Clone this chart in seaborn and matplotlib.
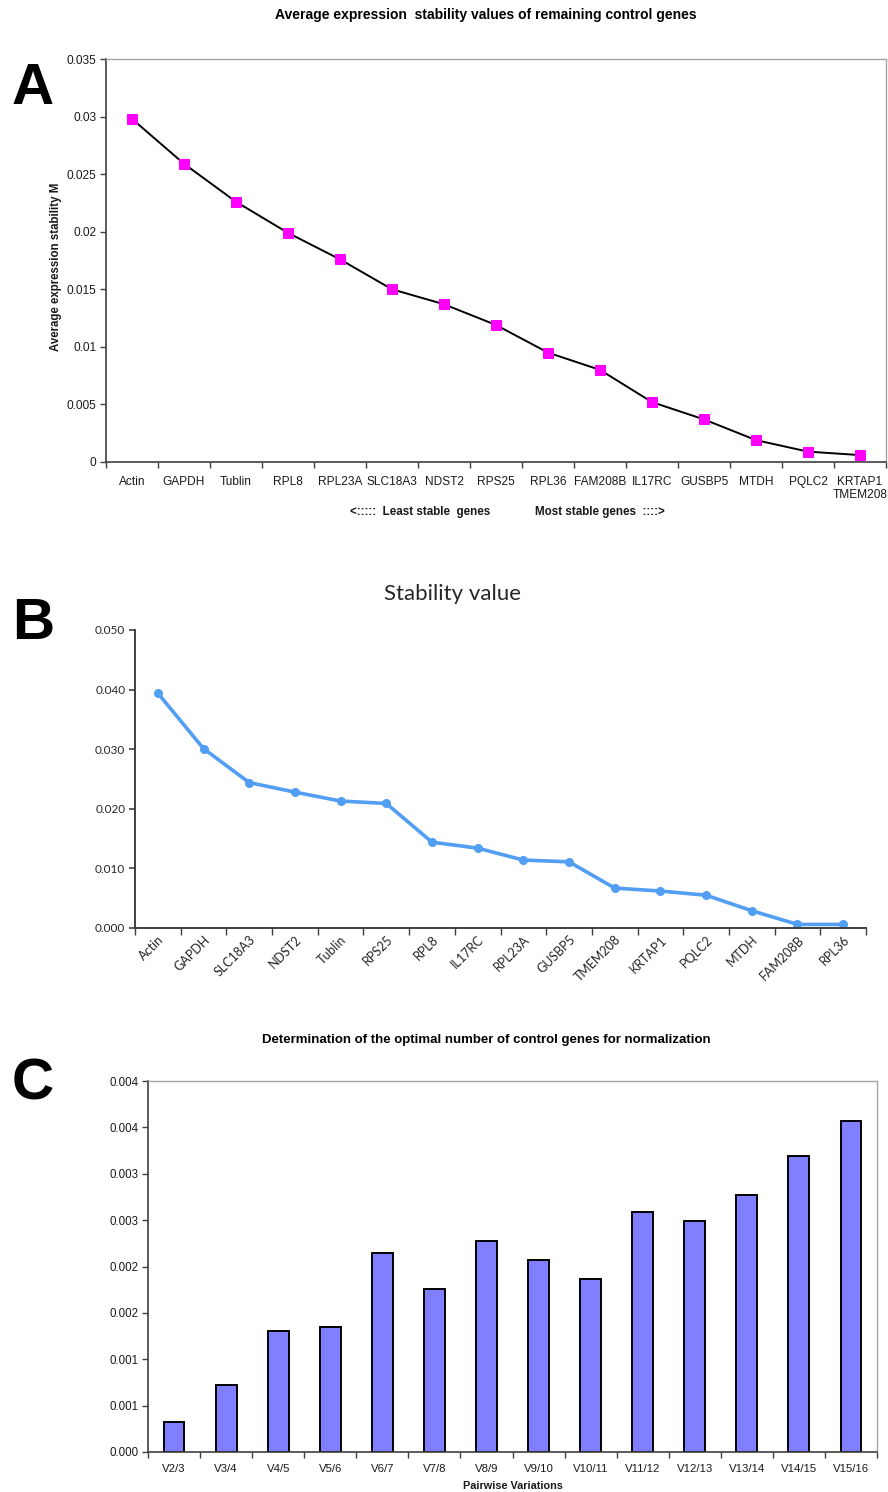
"""Reference gene stability panels (A: geNorm M, B: stability value, C: pairwise V)."""

import numpy as np
import matplotlib

matplotlib.use("Agg")
import matplotlib.pyplot as plt  # noqa: E402
import seaborn as sns  # noqa: E402

# --- data -------------------------------------------------------------------
genes_a = ["Actin", "GAPDH", "Tublin", "RPL8", "RPL23A", "SLC18A3", "NDST2",
           "RPS25", "RPL36", "FAM208B", "IL17RC", "GUSBP5", "MTDH", "PQLC2",
           "KRTAP1\nTMEM208"]
stability_m = [0.0298, 0.0259, 0.0226, 0.0199, 0.0176, 0.0150, 0.0137,
               0.0119, 0.0095, 0.0080, 0.0052, 0.0037, 0.0019, 0.0009, 0.0006]
a_yticks = [0, 0.005, 0.01, 0.015, 0.02, 0.025, 0.03, 0.035]
a_yticklabels = ["0", "0.005", "0.01", "0.015", "0.02", "0.025", "0.03", "0.035"]

genes_b = ["Actin", "GAPDH", "SLC18A3", "NDST2", "Tublin", "RPS25", "RPL8",
           "IL17RC", "RPL23A", "GUSBP5", "TMEM208", "KRTAP1", "PQLC2", "MTDH",
           "FAM208B", "RPL36"]
stability_value = [0.0394, 0.0301, 0.0244, 0.0228, 0.0213, 0.0209, 0.0144,
                   0.0134, 0.0114, 0.0111, 0.0067, 0.0062, 0.0055, 0.0029,
                   0.0006, 0.0006]
b_yticks = [0.0, 0.01, 0.02, 0.03, 0.04, 0.05]
b_yticklabels = ["0.000", "0.010", "0.020", "0.030", "0.040", "0.050"]

pairs = ["V2/3", "V3/4", "V4/5", "V5/6", "V6/7", "V7/8", "V8/9", "V9/10",
         "V10/11", "V11/12", "V12/13", "V13/14", "V14/15", "V15/16"]
pairwise_v = [0.00032, 0.00072, 0.00130, 0.00135, 0.00215, 0.00176, 0.00227,
              0.00207, 0.00187, 0.00259, 0.00249, 0.00277, 0.00319, 0.00357]
c_yticks = [0, 0.0005, 0.001, 0.0015, 0.002, 0.0025, 0.003, 0.0035, 0.004]
c_yticklabels = ["0.000", "0.001", "0.001", "0.002", "0.002", "0.003",
                 "0.003", "0.004", "0.004"]

# --- style ------------------------------------------------------------------
sns.set_theme(style="white")
plt.rcParams["font.family"] = ["Liberation Sans", "DejaVu Sans"]
plt.rcParams["text.color"] = "black"
plt.rcParams["axes.labelcolor"] = "black"
ARIAL = ["Liberation Sans", "DejaVu Sans"]
CALIBRI = ["Lato", "DejaVu Sans"]
DARK = "#404040"
LIGHT = "#a6a6a6"
INK = "#1a1a1a"

W, H = 888, 1492
fig = plt.figure(figsize=(W / 100, H / 100), dpi=100)


def px_axes(left, top, right, bottom):
    return fig.add_axes([left / W, 1 - bottom / H, (right - left) / W, (bottom - top) / H])


def boundary_ticks(ax, n, length=4):
    ax.set_xlim(-0.5, n - 0.5)
    ax.set_xticks(np.arange(n + 1) - 0.5, minor=True)
    ax.tick_params(axis="x", which="major", length=0)
    ax.tick_params(axis="x", which="minor", length=length, width=1, color=DARK,
                   direction="out", bottom=True)


def excel_frame(ax):
    for side in ("left", "bottom"):
        ax.spines[side].set_color(DARK)
        ax.spines[side].set_linewidth(1.2)
    for side in ("top", "right"):
        ax.spines[side].set_color(LIGHT)
        ax.spines[side].set_linewidth(1.0)


# --- panel A ----------------------------------------------------------------
ax_a = px_axes(106, 59, 886, 462)
sns.lineplot(x=genes_a, y=stability_m, sort=False, ax=ax_a, color="black",
             linewidth=1.4, marker="s", markersize=7,
             markerfacecolor="#FF00FF", markeredgecolor="#FF00FF")
boundary_ticks(ax_a, len(genes_a))
ax_a.set_ylim(0, 0.035)
ax_a.set_yticks(a_yticks)
ax_a.set_yticklabels(a_yticklabels)
ax_a.tick_params(axis="y", length=4, width=1, color=DARK, left=True,
                 labelsize=8.6, labelcolor=INK, pad=3)
ax_a.tick_params(axis="x", labelsize=8.6, labelcolor=INK, pad=10)
for lbl in ax_a.get_xticklabels():
    lbl.set_verticalalignment("top")
    lbl.set_linespacing(1.1)
excel_frame(ax_a)
ax_a.set_ylabel("Average expression stability M", fontsize=8.3,
                fontweight="bold", color=INK)
ax_a.yaxis.set_label_coords((62 - 106) / 780, 0.484)
ax_a.set_xlabel("")

fig.text(486 / W, 1 - 15 / H, "Average expression  stability values of remaining control genes",
         ha="center", va="center", fontsize=10, fontweight="bold", family=ARIAL)
fig.text(490 / W, 1 - 512 / H, "<:::::  Least stable  genes", ha="right",
         va="center", fontsize=8.4, fontweight="bold", family=ARIAL, color=INK)
fig.text(535 / W, 1 - 512 / H, "Most stable genes  ::::>", ha="left",
         va="center", fontsize=8.4, fontweight="bold", family=ARIAL, color=INK)

# --- panel B ----------------------------------------------------------------
ax_b = px_axes(135, 630, 866, 928)
sns.lineplot(x=genes_b, y=stability_value, sort=False, ax=ax_b,
             color="#519EF3", linewidth=2.6, marker="o", markersize=6.5,
             markeredgewidth=0)
boundary_ticks(ax_b, len(genes_b), length=5)
ax_b.set_ylim(0, 0.05)
ax_b.set_yticks(b_yticks)
ax_b.set_yticklabels(b_yticklabels)
ax_b.tick_params(axis="y", length=4, width=1.2, color=DARK, left=True,
                 labelsize=8.5, labelcolor="#262626", pad=3)
ax_b.tick_params(axis="x", labelsize=9, labelcolor="#262626", pad=4)
for lbl in ax_b.get_xticklabels() + ax_b.get_yticklabels():
    lbl.set_family(CALIBRI)
for lbl in ax_b.get_xticklabels():
    lbl.set_rotation(45)
    lbl.set_ha("right")
    lbl.set_rotation_mode("anchor")
sns.despine(ax=ax_b)
for side in ("left", "bottom"):
    ax_b.spines[side].set_color(DARK)
    ax_b.spines[side].set_linewidth(1.4)
ax_b.set_xlabel("")
ax_b.set_ylabel("")
fig.text(452 / W, 1 - 594 / H, "Stability value", ha="center", va="center",
         fontsize=16, family=CALIBRI, color="#262626")

# --- panel C ----------------------------------------------------------------
ax_c = px_axes(148, 1081, 877, 1452)
sns.barplot(x=pairs, y=pairwise_v, ax=ax_c, color="#8080FF", saturation=1,
            width=0.4, edgecolor="black", linewidth=1.4)
boundary_ticks(ax_c, len(pairs))
ax_c.set_ylim(0, 0.004)
ax_c.set_yticks(c_yticks)
ax_c.set_yticklabels(c_yticklabels)
ax_c.tick_params(axis="y", length=4, width=1, color=DARK, left=True,
                 labelsize=8.3, labelcolor=INK, pad=3)
ax_c.tick_params(axis="x", labelsize=8.2, labelcolor=INK, pad=9)
excel_frame(ax_c)
ax_c.set_xlabel("Pairwise Variations", fontsize=7.8, fontweight="bold",
                color=INK, labelpad=5)
ax_c.set_ylabel("")
fig.text(486 / W, 1 - 1040 / H,
         "Determination of the optimal number of control genes for normalization",
         ha="center", va="center", fontsize=9.5, fontweight="bold", family=ARIAL)

# --- panel letters -----------------------------------------------------------
for letter, x, y in (("A", 33, 89), ("B", 33, 624), ("C", 33, 1084)):
    fig.text(x / W, 1 - y / H, letter, ha="center", va="center", fontsize=42,
             fontweight="bold", family=ARIAL, color="black")

fig.savefig("out.png", dpi=100)
plt.close(fig)
